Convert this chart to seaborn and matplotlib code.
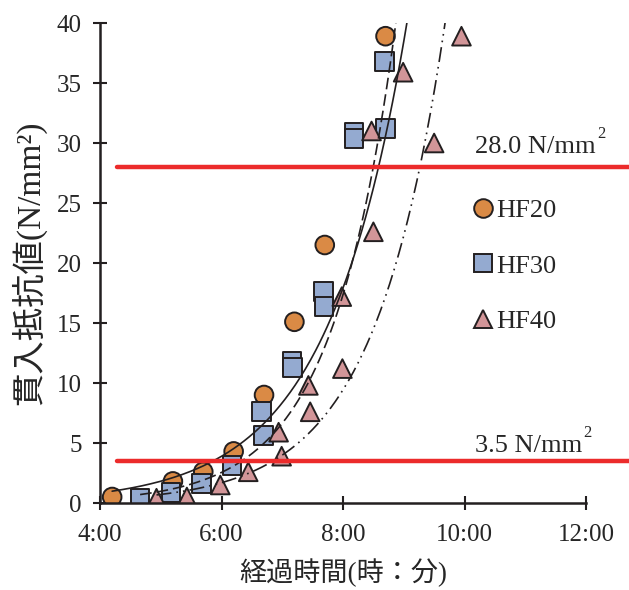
import numpy as np
import pandas as pd
import seaborn as sns
from matplotlib import pyplot as plt
from matplotlib.ticker import FuncFormatter

# elapsed time (hours) and penetration resistance (N/mm2)
HF20_TIME = [4.20, 5.20, 5.70, 6.20, 6.70, 7.20, 7.70, 8.70]
HF20_VALUE = [0.5, 1.8, 2.6, 4.3, 9.0, 15.1, 21.5, 38.9]

HF30_TIME = [4.66, 5.17, 5.67, 6.17, 6.66, 6.69, 7.16, 7.17, 7.68, 7.69, 8.18, 8.18, 8.68, 8.70]
HF30_VALUE = [0.4, 0.9, 1.6, 3.1, 7.6, 5.6, 11.8, 11.3, 17.6, 16.4, 30.9, 30.4, 36.8, 31.2]

HF40_TIME = [4.93, 5.43, 5.98, 6.44, 6.94, 6.99, 7.43, 7.46, 7.98, 7.99, 8.47, 8.50, 8.99, 9.50, 9.95]
HF40_VALUE = [0.4, 0.5, 1.5, 2.6, 5.9, 3.9, 9.8, 7.6, 17.2, 11.2, 31.0, 22.6, 35.9, 30.0, 38.9]

SERIES = ["HF20", "HF30", "HF40"]

# exponential trend lines  y = exp(ln_a + b * t), start time of each
TREND_LN_A = [-3.222, -4.826, -4.636]
TREND_B = [0.7635, 0.96, 0.86]
TREND_START = [4.20, 4.66, 4.93]

LIMITS = [28.0, 3.5]
LIMIT_LABELS = ["28.0 N/mm", "3.5 N/mm"]
LIMIT_TEXT_RAISE = [10, 6.5]  # points above the red line

COLORS = {"HF20": "#DA8A45", "HF30": "#94AAD0", "HF40": "#D29598"}
MARKERS = {"HF20": "o", "HF30": "s", "HF40": "^"}
TREND_STYLES = ["-", (0, (7, 3)), (0, (9, 3, 1, 3, 1, 3))]
INK = "#231F20"

sns.set_style("ticks")
plt.rcParams["font.family"] = ["Liberation Serif", "Noto Sans CJK JP"]

df = pd.DataFrame({
    "time": HF20_TIME + HF30_TIME + HF40_TIME,
    "value": HF20_VALUE + HF30_VALUE + HF40_VALUE,
    "series": ["HF20"] * len(HF20_TIME) + ["HF30"] * len(HF30_TIME) + ["HF40"] * len(HF40_TIME),
})

fig = plt.figure(figsize=(6.29, 5.90), dpi=100)
ax = fig.add_axes([100 / 629, 1 - 503 / 590, 486 / 629, 480 / 590])

sns.scatterplot(
    data=df, x="time", y="value", hue="series", style="series",
    hue_order=SERIES, style_order=SERIES,
    palette=COLORS, markers=MARKERS, s=180,
    edgecolor=INK, linewidth=1.4, ax=ax, zorder=2,
)

for ln_a, b, start, style in zip(TREND_LN_A, TREND_B, TREND_START, TREND_STYLES):
    t = np.linspace(start, 10.5, 300)
    ax.plot(t, np.exp(ln_a + b * t), color=INK, lw=1.2, linestyle=style, zorder=3)

for level, label, raise_pt in zip(LIMITS, LIMIT_LABELS, LIMIT_TEXT_RAISE):
    ax.plot([4.275, 12.75], [level, level], color="#EC2B2B", lw=3.2, clip_on=False, zorder=4)
    txt = ax.annotate(label, xy=(10.17, level), xytext=(0, raise_pt), textcoords="offset points",
                      fontsize=19, va="baseline", ha="left", zorder=5,
                      bbox=dict(facecolor="white", edgecolor="none", pad=0.5))
    ax.annotate("2", xy=(1.0, 1.0), xycoords=txt, xytext=(1, 7), textcoords="offset points",
                fontsize=12, va="top", ha="left", zorder=5, annotation_clip=False)

sns.move_legend(
    ax, "center left", bbox_to_anchor=(0.734, 0.494), frameon=False, title=None,
    fontsize=19, handlelength=1.0, handletextpad=0.0, labelspacing=1.2, borderpad=0,
)

ax.set_xlim(4, 12)
ax.set_ylim(0, 40)
ax.set_xticks([4, 6, 8, 10, 12])
ax.set_yticks(range(0, 41, 5))
ax.xaxis.set_major_formatter(FuncFormatter(lambda v, _: f"{int(v)}:00"))
ax.tick_params(direction="inout", length=10, width=1.5, color=INK, labelsize=18)
ax.tick_params(axis="x", pad=10)
ax.tick_params(axis="y", pad=8)
for side in ("left", "bottom"):
    ax.spines[side].set_linewidth(1.8)
    ax.spines[side].set_color(INK)
sns.despine(ax=ax)

ax.set_xlabel("経過時間(時：分)", fontsize=19.5, labelpad=9)
ax.set_ylabel("貫入抵抗値(N/mm²)", fontsize=24, labelpad=8)

fig.savefig("out.png", dpi=100)
